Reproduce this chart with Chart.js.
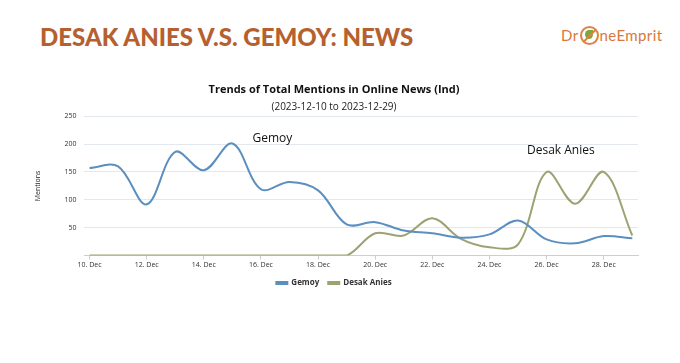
<!DOCTYPE html>
<html>
<head>
<meta charset="utf-8">
<script src="https://cdn.jsdelivr.net/npm/chart.js@4"></script>
<style>
  body { margin: 0; background: #fff; width: 680px; height: 363px; overflow: hidden; position: relative; font-family: Lato, sans-serif; }
  #head { position: absolute; left: 40px; top: 22px; font-family: Lato, sans-serif; font-weight: 900; font-size: 24px; color: #b5602e; white-space: nowrap; }
  #logo { position: absolute; left: 561px; top: 26px; font-family: Lato, sans-serif; font-size: 15px; letter-spacing: 0.4px; color: #d9783a; white-space: nowrap; }
  #logo .o { display: inline-block; width: 15px; height: 15px; border: 2px solid #e08245; border-radius: 50%; vertical-align: -4px; margin: 0 1px; position: relative; }
  #logo .o:after { content: ''; position: absolute; left: 3px; top: 2px; width: 8px; height: 9px; background: #7aa83c; border-radius: 50% 0 50% 50%; }
  #logo .o:before { content: ''; position: absolute; left: -1px; top: 7px; width: 17px; height: 2px; background: #e08245; transform: rotate(-45deg); z-index: 1; }
  canvas { position: absolute; left: 0; top: 0; }
</style>
</head>
<body>
<div id="head">DESAK ANIES V.S. GEMOY: NEWS</div>
<div id="logo">Dr<span class="o"></span>neEmprit</div>
<canvas id="chart" width="680" height="363"></canvas>
<script>
document.addEventListener('DOMContentLoaded', function() {
    const days = ['10. Dec', '11. Dec', '12. Dec', '13. Dec', '14. Dec', '15. Dec', '16. Dec',
        '17. Dec', '18. Dec', '19. Dec', '20. Dec', '21. Dec', '22. Dec', '23. Dec',
        '24. Dec', '25. Dec', '26. Dec', '27. Dec', '28. Dec', '29. Dec'];
    const gemoy = [157, 160, 92, 186, 153, 201, 119, 132, 117, 56, 60, 45, 40, 32, 38, 63, 29, 22, 35, 31];
    const desakAnies = [0, 0, 0, 0, 0, 0, 0, 0, 0, 0, 40, 36, 67, 30, 15, 20, 150, 93, 150, 36];
    const yTicks = [0, 50, 100, 150, 200, 250];

    // callouts drawn next to the lines
    const callouts = [
        { text: 'Gemoy', day: 6.4, value: 210 },
        { text: 'Desak Anies', day: 16.5, value: 188 }
    ];

    const calloutPlugin = {
        id: 'callouts',
        afterDatasetsDraw(chart) {
            const ctx = chart.ctx;
            const x = chart.scales.x, y = chart.scales.y;
            ctx.save();
            ctx.font = '12px "Open Sans", sans-serif';
            ctx.fillStyle = '#111';
            ctx.textAlign = 'center';
            ctx.textBaseline = 'middle';
            callouts.forEach(c => ctx.fillText(c.text, x.getPixelForValue(c.day), y.getPixelForValue(c.value)));
            ctx.restore();
        }
    };

    const toPoints = arr => arr.map((v, i) => ({ x: i, y: v }));

    new Chart(document.getElementById('chart'), {
        type: 'line',
        data: {
            datasets: [{
                label: 'Gemoy',
                data: toPoints(gemoy),
                borderColor: '#5b8fc0',
                backgroundColor: '#5b8fc0',
                borderWidth: 2,
                pointRadius: 0,
                tension: 0.35
            }, {
                label: 'Desak Anies',
                data: toPoints(desakAnies),
                borderColor: '#9ba373',
                backgroundColor: '#9ba373',
                borderWidth: 2,
                pointRadius: 0,
                tension: 0.35
            }]
        },
        options: {
            responsive: false,
            animation: false,
            layout: { padding: { top: 83, left: 30, right: 42, bottom: 66 } },
            plugins: {
                title: {
                    display: true,
                    text: 'Trends of Total Mentions in Online News (Ind)',
                    color: '#111',
                    font: { family: 'Open Sans', size: 11, weight: 'bold' },
                    padding: { top: 0, bottom: 5 }
                },
                subtitle: {
                    display: true,
                    text: '(2023-12-10 to 2023-12-29)',
                    color: '#222',
                    font: { family: 'Open Sans', size: 10 },
                    padding: { bottom: 3 }
                },
                legend: {
                    position: 'bottom',
                    labels: {
                        boxWidth: 11,
                        boxHeight: 2,
                        color: '#333',
                        font: { family: 'Open Sans', size: 8, weight: 'bold' },
                        padding: 9
                    }
                },
                tooltip: { enabled: false }
            },
            scales: {
                x: {
                    type: 'linear',
                    min: -0.18,
                    max: 19.2,
                    afterBuildTicks(scale) {
                        scale.ticks = days.map((d, i) => ({ value: i })).filter(t => t.value % 2 === 0);
                    },
                    ticks: {
                        callback: v => days[v],
                        color: '#333',
                        maxRotation: 0,
                        font: { family: 'Open Sans', size: 7 },
                        padding: 1
                    },
                    grid: { display: true, drawOnChartArea: false, tickLength: 4, color: '#c8cfd8' },
                    border: { color: '#c8cfd8' }
                },
                y: {
                    min: 0,
                    max: 250,
                    afterBuildTicks(scale) {
                        scale.ticks = yTicks.map(v => ({ value: v }));
                    },
                    title: {
                        display: true,
                        text: 'Mentions',
                        color: '#222',
                        font: { family: 'Open Sans', size: 7 },
                        padding: { bottom: 14 }
                    },
                    ticks: {
                        callback: v => v === 0 ? '' : v,
                        color: '#333',
                        font: { family: 'Open Sans', size: 7 },
                        padding: 8
                    },
                    grid: { color: '#e3e7ee', drawTicks: false },
                    border: { display: false }
                }
            }
        },
        plugins: [calloutPlugin]
    });
});
</script>
</body>
</html>
